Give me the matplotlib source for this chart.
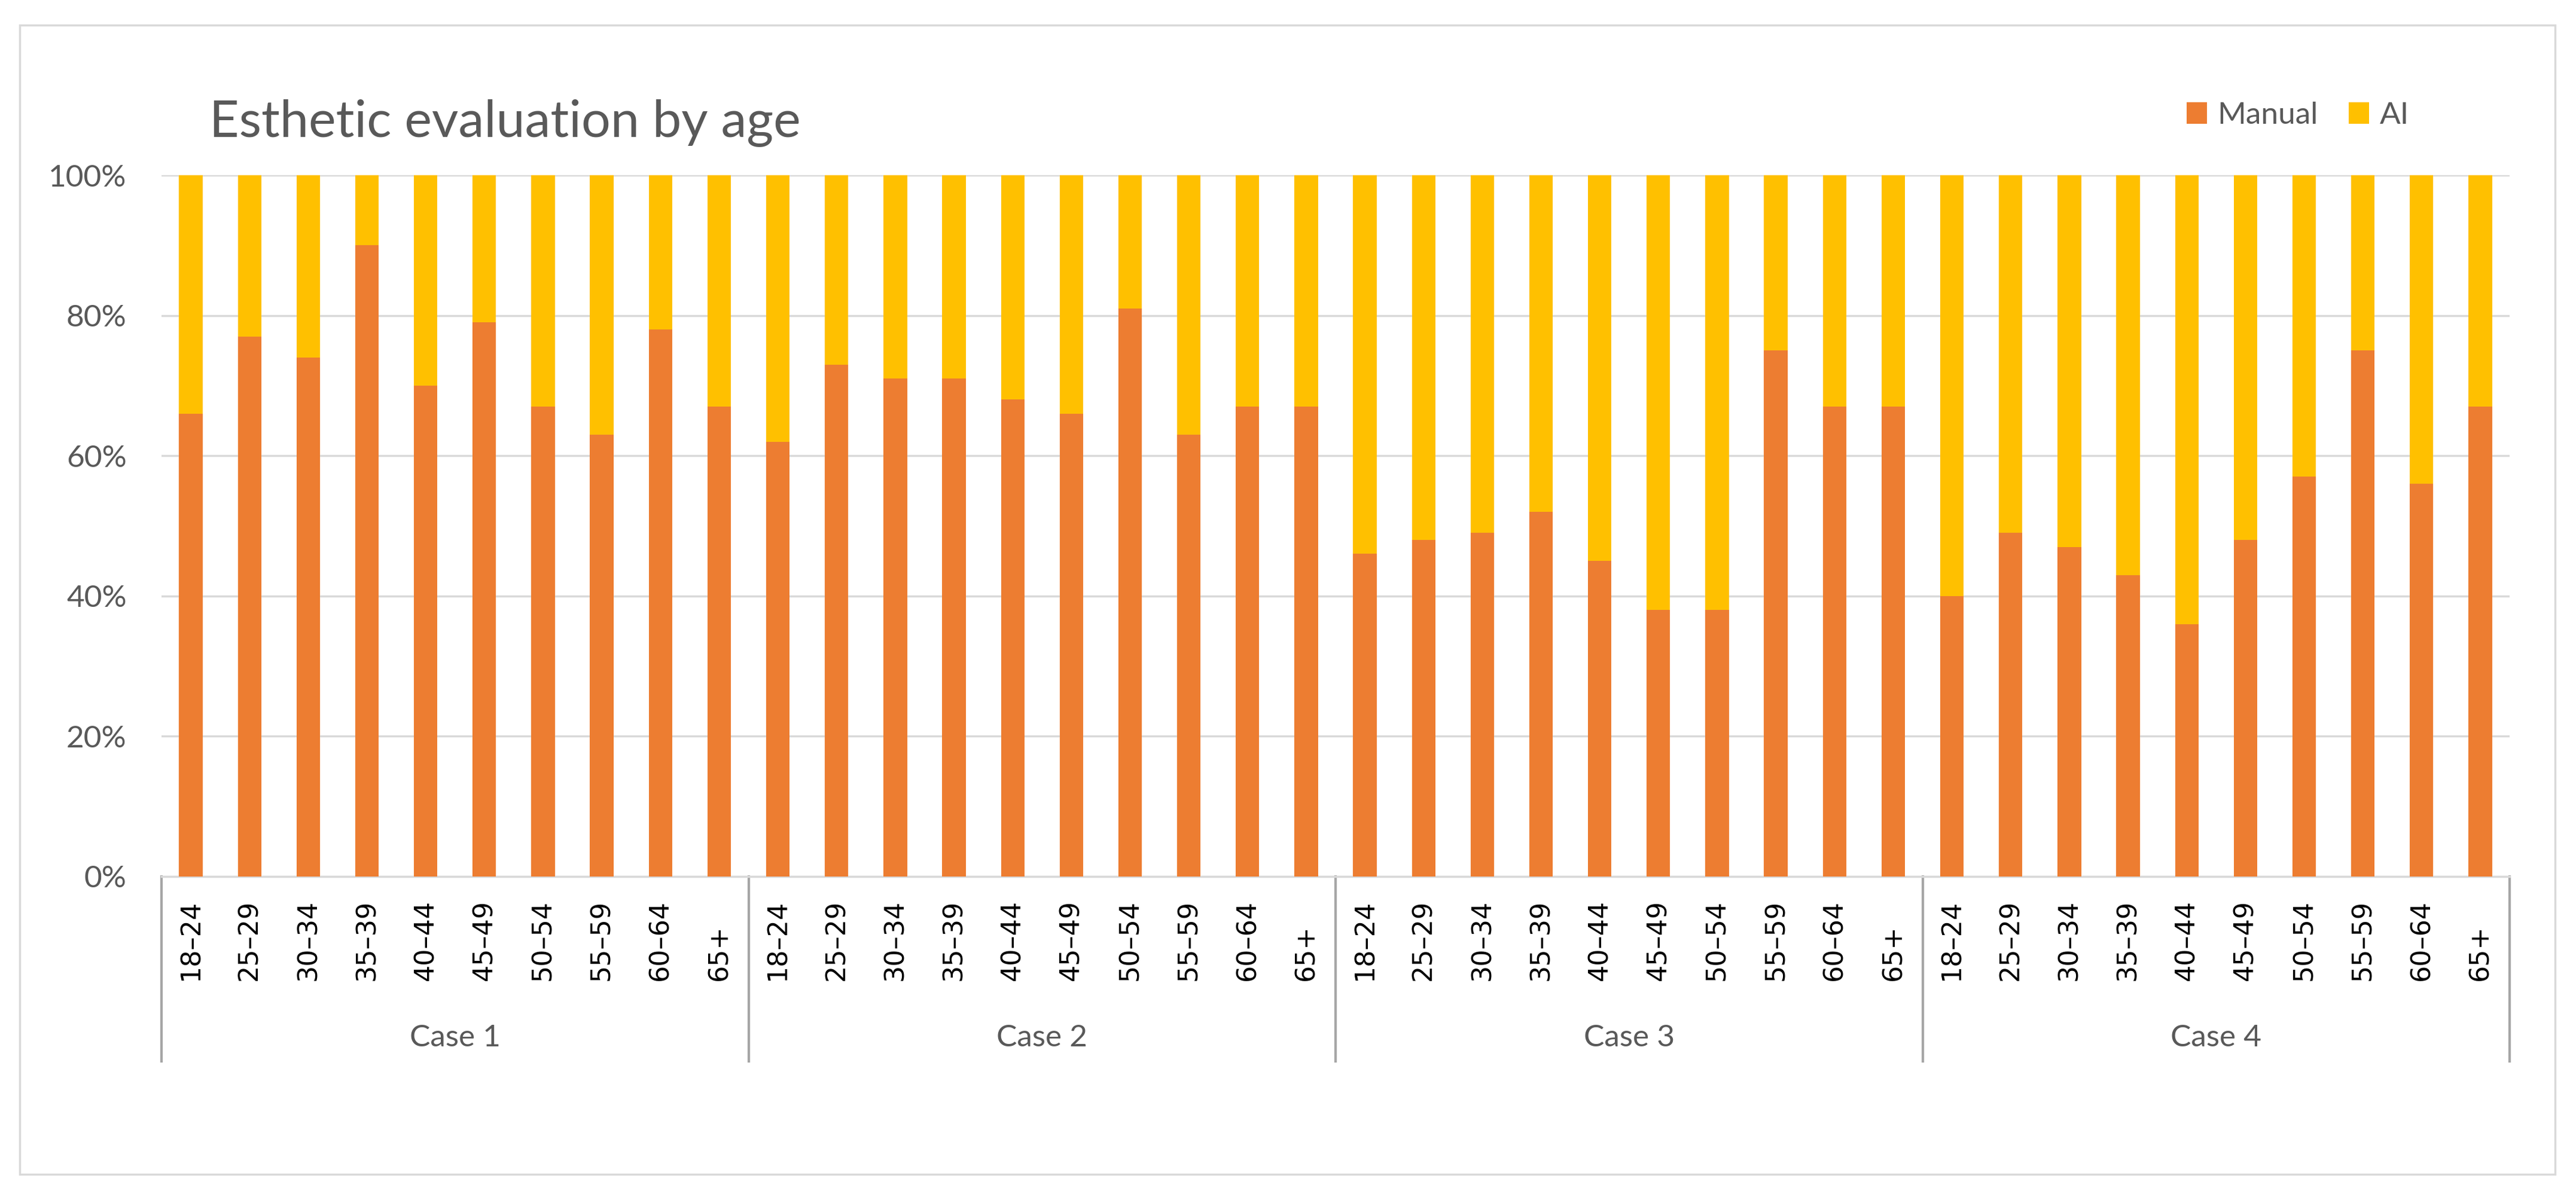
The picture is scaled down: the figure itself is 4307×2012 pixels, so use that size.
import matplotlib
matplotlib.use("Agg")
import matplotlib.pyplot as plt
import matplotlib.transforms as mtransforms
from matplotlib.patches import Patch, Rectangle
from matplotlib.lines import Line2D
import numpy as np

cases = ["Case 1", "Case 2", "Case 3", "Case 4"]
age_groups = ["18–24", "25–29", "30–34", "35–39", "40–44", "45–49", "50–54", "55–59", "60–64", "65+"]

manual_case1 = [66, 77, 74, 90, 70, 79, 67, 63, 78, 67]
manual_case2 = [62, 73, 71, 71, 68, 66, 81, 63, 67, 67]
manual_case3 = [46, 48, 49, 52, 45, 38, 38, 75, 67, 67]
manual_case4 = [40, 49, 47, 43, 36, 48, 57, 75, 56, 67]

series_names = ["Manual", "AI"]
y_ticks = [0, 20, 40, 60, 80, 100]

manual = np.array(manual_case1 + manual_case2 + manual_case3 + manual_case4) / 100.0
ai = 1.0 - manual

W, H = 4307, 2012
DPI = 100
fig = plt.figure(figsize=(W / DPI, H / DPI), dpi=DPI)
fig.patch.set_facecolor("white")

# outer border
fig.patches.append(Rectangle((33 / W, 1 - 1964 / H), (4272 - 33) / W, (1964 - 42) / H,
                             transform=fig.transFigure, fill=False,
                             edgecolor="#D9D9D9", linewidth=2.5, zorder=0))

left, right, top, bottom = 270, 4196, 293, 1466
ax = fig.add_axes([left / W, 1 - bottom / H, (right - left) / W, (bottom - top) / H])

ORANGE = "#ED7D31"
YELLOW = "#FFC000"
n = len(manual)
x = np.arange(n)
ax.bar(x, manual, width=0.4, color=ORANGE, zorder=3, label=series_names[0])
ax.bar(x, ai, width=0.4, bottom=manual, color=YELLOW, zorder=3, label=series_names[1])

ax.set_xlim(-0.5, n - 0.5)
ax.set_ylim(0, 1)
ax.set_yticks([t / 100 for t in y_ticks])
ax.set_yticklabels([f"{t}%" for t in y_ticks], fontfamily="Lato", fontsize=37, color="#595959")
ax.tick_params(axis="y", length=0, pad=42)
ax.set_xticks([])
for s in ["left", "right", "top"]:
    ax.spines[s].set_visible(False)
ax.spines["bottom"].set_color("#D9D9D9")
ax.spines["bottom"].set_linewidth(2.5)
ax.yaxis.grid(True, color="#D9D9D9", linewidth=2.5, zorder=0)
ax.set_axisbelow(True)

trans = mtransforms.blended_transform_factory(ax.transData, fig.transFigure)
labels_all = age_groups * len(cases)
for i, lab in enumerate(labels_all):
    ax.text(i, 1 - 1640 / H, lab, rotation=90, ha="center", va="bottom",
            transform=trans, fontfamily="DejaVu Sans", fontsize=32, color="#000000",
            clip_on=False)

ng = len(age_groups)
for ci, c in enumerate(cases):
    ax.text(ci * ng + (ng - 1) / 2, 1 - 1736 / H, c, ha="center", va="center",
            transform=trans, fontfamily="Lato", fontsize=37, color="#595959")
for k in range(len(cases) + 1):
    xb = k * ng - 0.5
    ax.add_line(Line2D([xb, xb], [1 - 1466 / H, 1 - 1775 / H], transform=trans,
                       color="#A6A6A6", linewidth=3, clip_on=False))

fig.text(350 / W, 1 - 228 / H, "Esthetic evaluation by age", ha="left", va="baseline",
         fontfamily="Lato", fontsize=62, color="#595959")

handles = [Patch(facecolor=ORANGE, label=series_names[0]),
           Patch(facecolor=YELLOW, label=series_names[1])]
fig.legend(handles=handles, loc="center", bbox_to_anchor=(3842 / W, 1 - 193 / H),
           ncol=2, frameon=False, prop={"family": "Lato", "size": 37},
           labelcolor="#595959", handlelength=0.65, handleheight=0.7,
           handletextpad=0.35, columnspacing=1.0)

fig.savefig("out.png", dpi=DPI, facecolor="white")
